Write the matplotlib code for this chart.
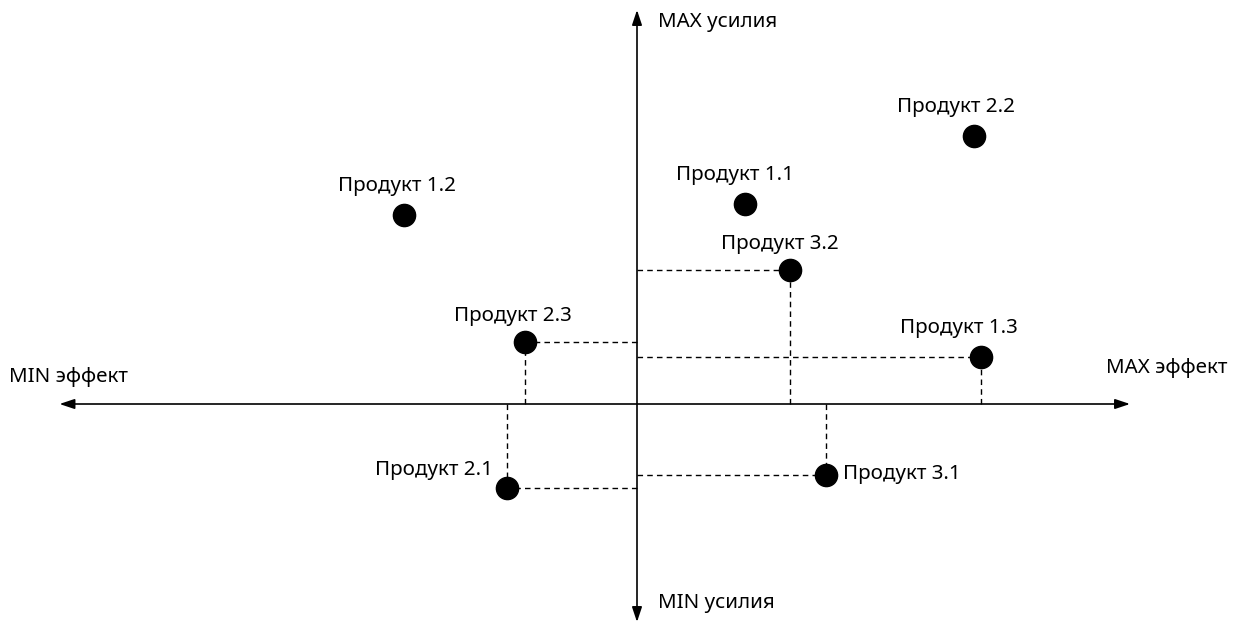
import matplotlib.pyplot as plt

plt.rcParams['font.family'] = ['Noto Sans', 'DejaVu Sans']

names = ['Продукт 1.1', 'Продукт 1.2', 'Продукт 1.3',
         'Продукт 2.1', 'Продукт 2.2', 'Продукт 2.3',
         'Продукт 3.1', 'Продукт 3.2']
effect = [2.16, -4.66, 6.88, -2.60, 6.74, -2.24, 3.78, 3.06]
effort = [4.00, 3.78, 0.94, -1.68, 5.36, 1.24, -1.42, 2.68]
guides = [False, False, True, True, False, True, True, True]

# label offsets in points (dx, dy, ha)
offsets = {
    'Продукт 1.1': (-7, 21, 'center'),
    'Продукт 1.2': (-5, 21, 'center'),
    'Продукт 1.3': (-16, 21, 'center'),
    'Продукт 2.1': (-10, 13, 'right'),
    'Продукт 2.2': (-13, 21, 'center'),
    'Продукт 2.3': (-9, 19, 'center'),
    'Продукт 3.1': (12, 1, 'left'),
    'Продукт 3.2': (-7, 19, 'center'),
}

fs = 14.8

fig = plt.figure(figsize=(12.35, 6.21), dpi=100)
ax = fig.add_axes([0, 0, 1, 1])
ax.set_xlim(-12.74, 11.96)
ax.set_ylim(-4.34, 8.08)
ax.axis('off')

arrow = dict(arrowstyle='<|-|>,head_length=0.9,head_width=0.3', color='black', lw=1.2,
             shrinkA=0, shrinkB=0)
ax.annotate('', xy=(-11.55, 0), xytext=(9.86, 0), arrowprops=arrow)
ax.annotate('', xy=(0, 7.88), xytext=(0, -4.36), arrowprops=arrow)

ax.text(-12.55, 0.54, 'MIN эффект', fontsize=fs, ha='left', va='center')
ax.text(11.80, 0.72, 'MAX эффект', fontsize=fs, ha='right', va='center')
ax.text(0.42, 7.64, 'MAX усилия', fontsize=fs, ha='left', va='center')
ax.text(0.42, -3.98, 'MIN усилия', fontsize=fs, ha='left', va='center')

for n, x, y, g in zip(names, effect, effort, guides):
    if g:
        ax.plot([0, x], [y, y], ls=(0, (4, 3)), color='black', lw=1, zorder=1)
        ax.plot([x, x], [0, y], ls=(0, (4, 3)), color='black', lw=1, zorder=1)
    ax.scatter(x, y, s=16 ** 2, color='black', zorder=3)
    dx, dy, ha = offsets[n]
    ax.annotate(n, (x, y), xytext=(dx, dy), textcoords='offset points',
                ha=ha, va='center', fontsize=fs)

fig.savefig('out.png', dpi=100)
